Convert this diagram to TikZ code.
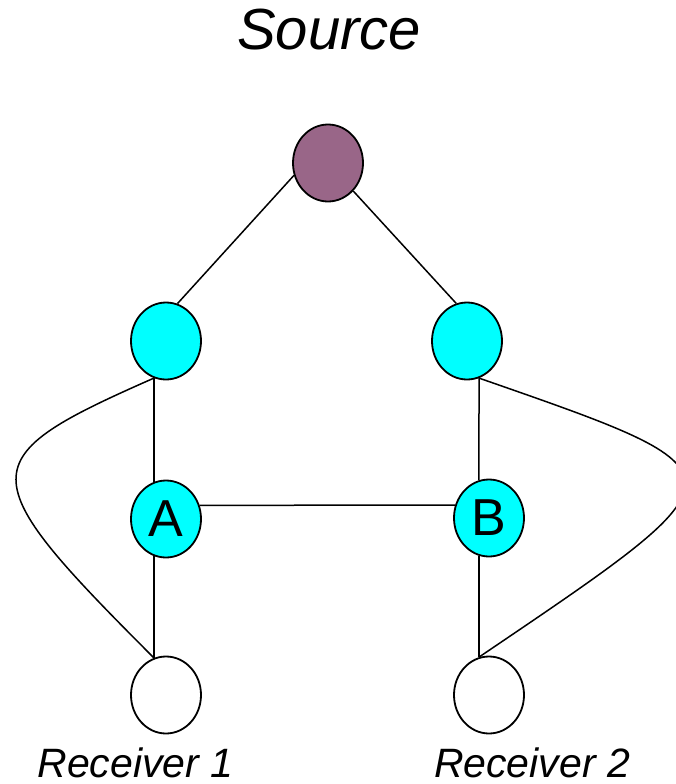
\documentclass[tikz,border=0pt]{standalone}
\usepackage{fontspec}
\setmainfont{Liberation Sans}
\usepackage{tikz}
\usetikzlibrary{%
	shapes.geometric%
}
\definecolor{srcpurple}{RGB}{153,102,136}
\definecolor{nodecyan}{RGB}{0,255,255}

\begin{document}
\begin{tikzpicture}[x=1pt,y=-1pt,line width=1.5pt,
		router/.style={ellipse,draw,line width=1.8pt,minimum width=70pt,
			minimum height=77pt,inner sep=0pt,
			font=\fontsize{52}{58}\selectfont},
		caption/.style={anchor=base,inner sep=0pt,
			font=\fontsize{41}{47}\selectfont\itshape}]
			\useasboundingbox (0,0) rectangle (676,784);
			% the routers, from the source down to the receivers
			\node[router,fill=srcpurple] (src) at (328,163) {};
			\node[router,fill=nodecyan] (l) at (166,341) {};
			\node[router,fill=nodecyan] (r) at (467,341) {};
			\node[router,fill=nodecyan] (A) at (166,519) {A};
			\node[router,fill=nodecyan] (B) at (489,518) {B};
			\node[router,fill=white] (r1) at (166,695) {};
			\node[router,fill=white] (r2) at (489,695) {};
			\node[caption,font=\fontsize{58}{64}\selectfont\itshape] (srclabel) at (329,50) {Source};
			\node[caption] (r1label) at (135.5,777) {Receiver 1};
			\node[caption] (r2label) at (532,777) {Receiver 2};
			\draw (src.-160) edge (l.73)
			(src.-48) edge (r.106)
			(l.-108) edge (A.108)
			(A.-108) edge (r1.108)
			(r.-72) edge (B.105)
			(B.-105) edge (r2.105)
			(A.22) edge (B.159)
			;
			% the two side links that go round A and B
			\draw (l.-108) .. controls (-30,459) and (-30,474) .. (r1.108);
			\draw (r.-72) .. controls (754,474) and (754,471) .. (r2.105);
		\end{tikzpicture}
\end{document}
